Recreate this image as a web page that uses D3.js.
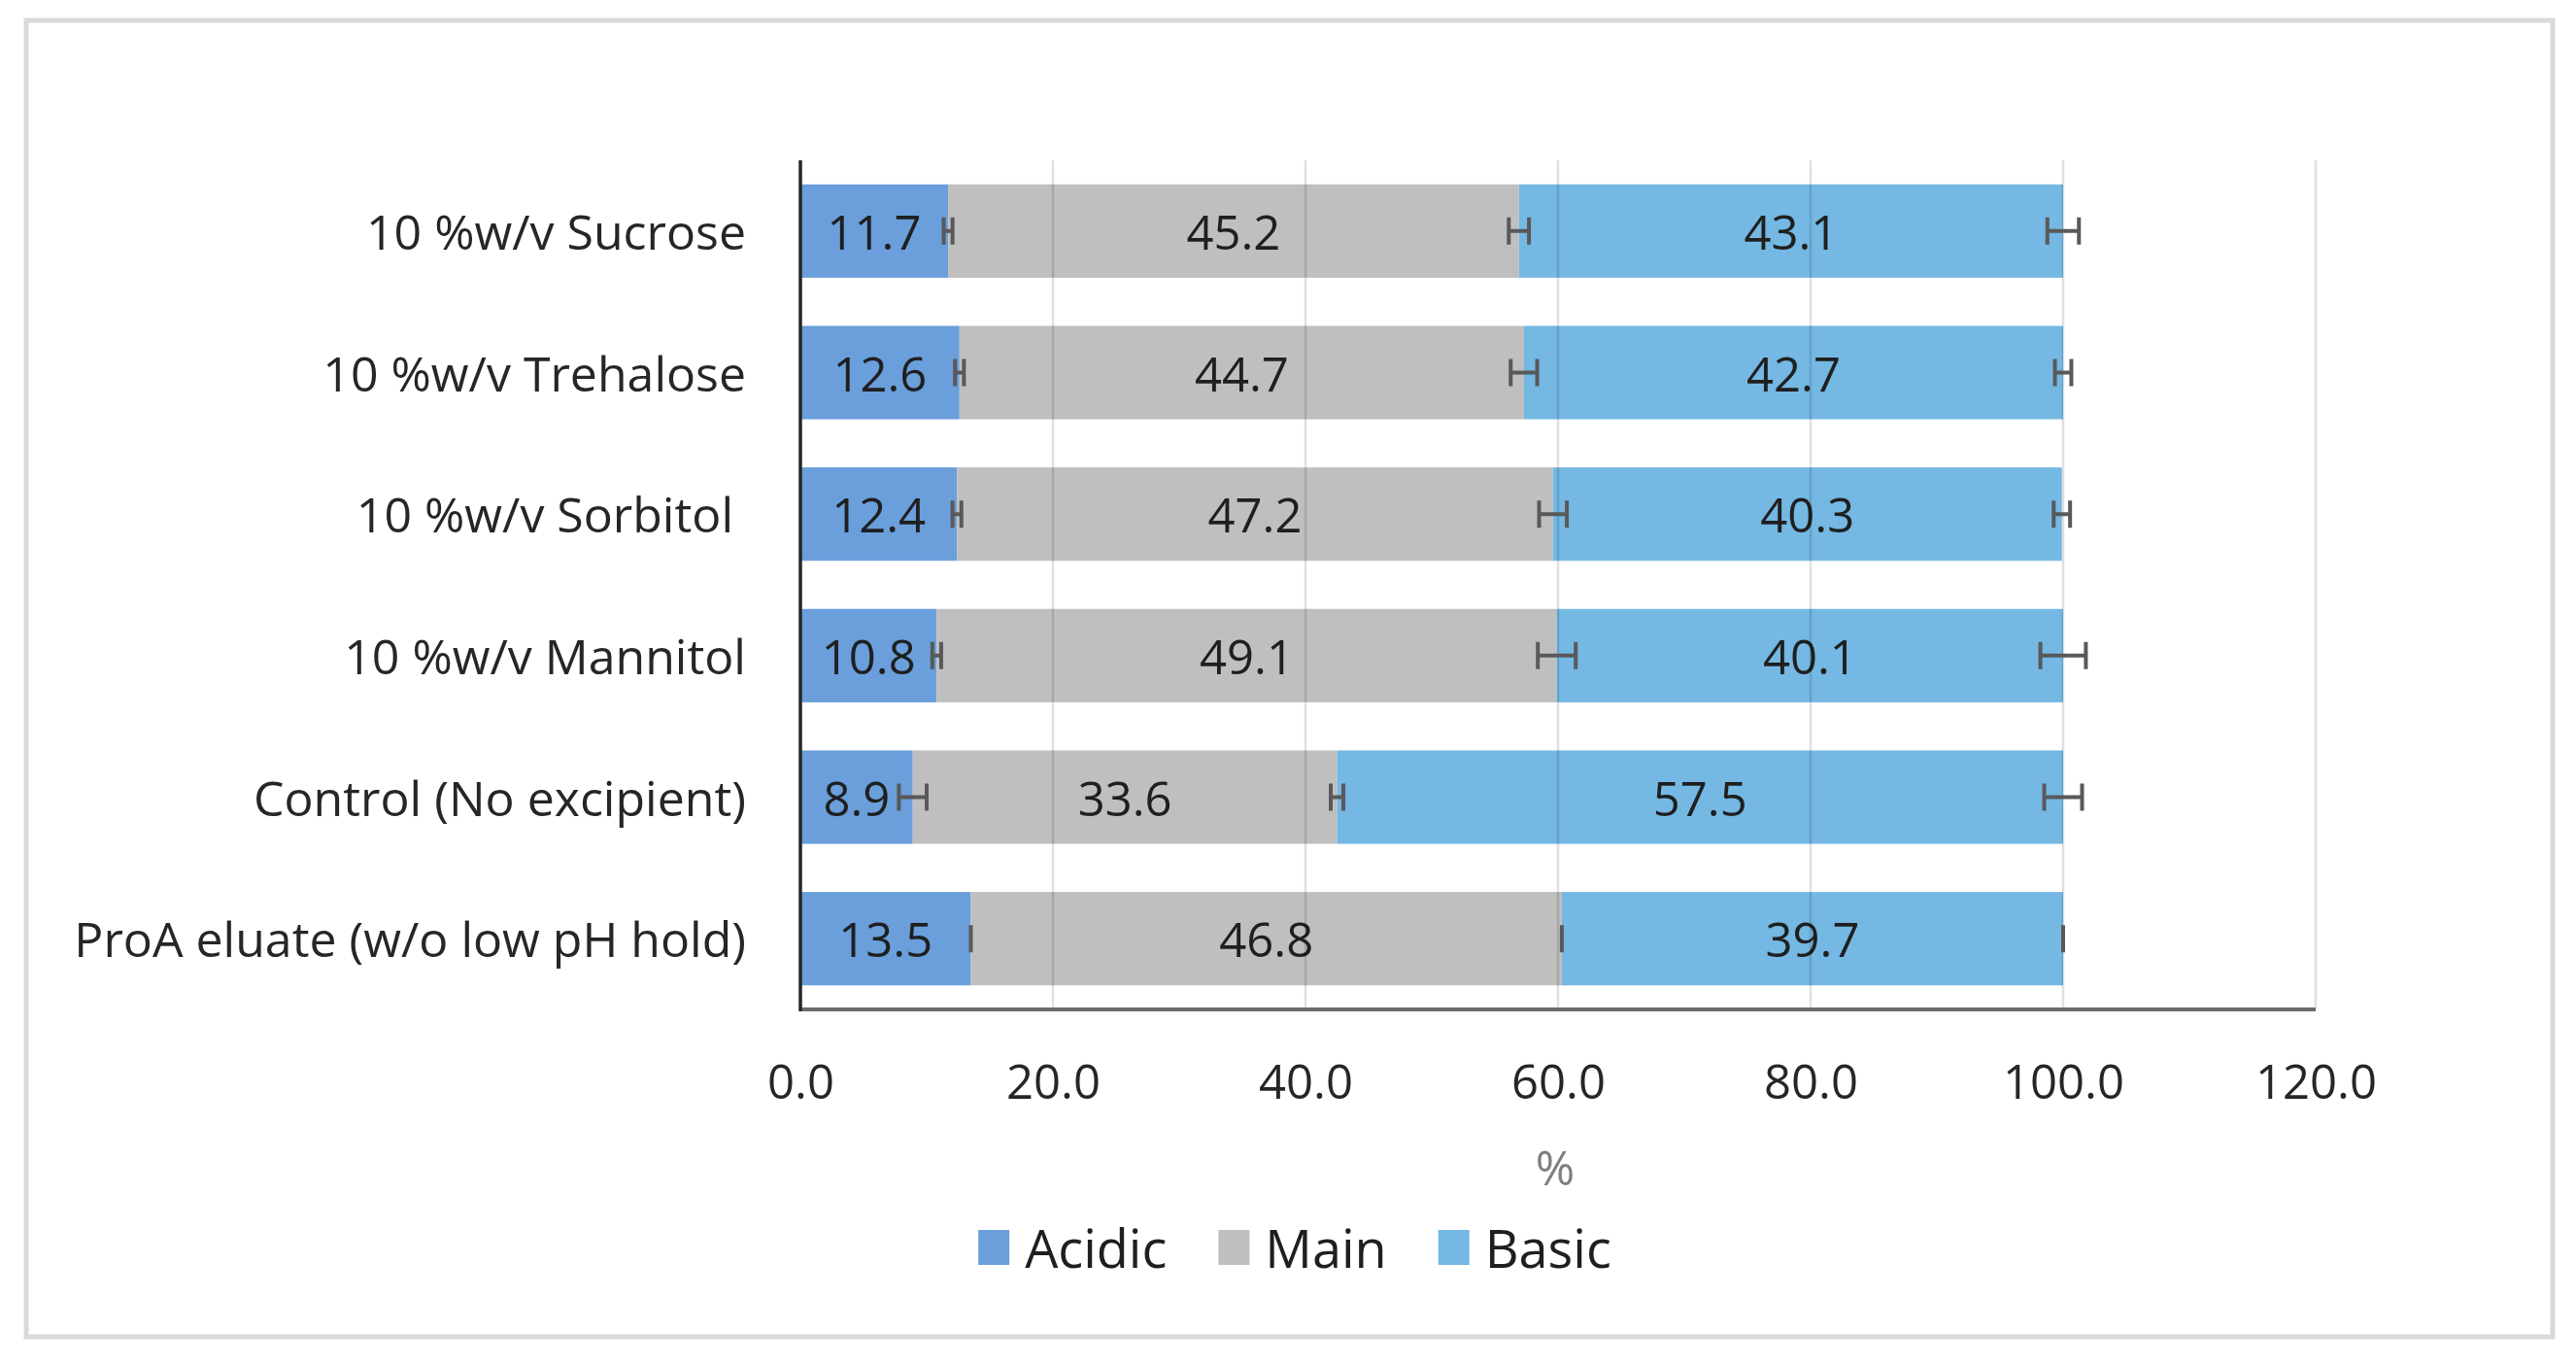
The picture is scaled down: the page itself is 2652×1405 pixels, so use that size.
<!DOCTYPE html>
<html>
<head>
<meta charset="utf-8">
<script src="https://cdn.jsdelivr.net/npm/d3@7"></script>
<style>
  html, body { margin: 0; padding: 0; background: #fff; }
  svg text { font-family: "Open Sans", sans-serif; }
</style>
</head>
<body>
<script>
const width = 2652;
const height = 1405;

// categories, top to bottom
const categories = [
  "10 %w/v Sucrose",
  "10 %w/v Trehalose",
  "10 %w/v Sorbitol ",
  "10 %w/v Mannitol",
  "Control (No excipient)",
  "ProA eluate (w/o low pH hold)"
];
const seriesNames = ["Acidic", "Main", "Basic"];
const seriesColors = ["#6A9FDB", "#BFBFBF", "#74B8E3"];

const acidic = [11.7, 12.6, 12.4, 10.8, 8.9, 13.5];
const main = [45.2, 44.7, 47.2, 49.1, 33.6, 46.8];
const basic = [43.1, 42.7, 40.3, 40.1, 57.5, 39.7];

// +/- error
const acidicErr = [0.35, 0.35, 0.35, 0.35, 1.1, 0];
const mainErr = [0.8, 1.05, 1.1, 1.5, 0.5, 0];
const basicErr = [1.25, 0.65, 0.65, 1.8, 1.5, 0];

const xTicks = [0, 20, 40, 60, 80, 100, 120];
const xTitle = "%";

const rows = categories.map((c, i) => ({
  category: c,
  Acidic: acidic[i], Main: main[i], Basic: basic[i],
  err: { Acidic: acidicErr[i], Main: mainErr[i], Basic: basicErr[i] }
}));

const x = d3.scaleLinear().domain([0, 120]).range([824, 2384]);
const y = d3.scaleBand().domain(categories).range([165, 1039])
  .paddingInner(0.34).paddingOuter(0.17);
const color = d3.scaleOrdinal().domain(seriesNames).range(seriesColors);

const stacked = d3.stack().keys(seriesNames)(rows);

const svg = d3.select("body").append("svg")
  .attr("width", width).attr("height", height)
  .attr("xmlns", "http://www.w3.org/2000/svg");

// chart frame
svg.append("rect")
  .attr("x", 27).attr("y", 21)
  .attr("width", 2601).attr("height", 1355)
  .attr("fill", "#fff")
  .attr("stroke", "#D9D9D9")
  .attr("stroke-width", 5);

// bars
const layer = svg.append("g").selectAll("g")
  .data(stacked)
  .enter().append("g")
  .attr("fill", d => color(d.key));

layer.selectAll("rect")
  .data(d => d)
  .enter().append("rect")
  .attr("x", d => x(d[0]))
  .attr("y", d => y(d.data.category))
  .attr("width", d => x(d[1]) - x(d[0]))
  .attr("height", y.bandwidth());

// gridlines, faint, also visible over the bars
svg.append("g").selectAll("line")
  .data(xTicks.filter(t => t > 0))
  .enter().append("line")
  .attr("x1", d => x(d)).attr("x2", d => x(d))
  .attr("y1", 165).attr("y2", 1039)
  .attr("stroke", "rgba(0,0,0,0.12)")
  .attr("stroke-width", 2.5);

// data labels
layer.selectAll("text")
  .data(d => d.map(v => Object.assign({ key: d.key }, v)))
  .enter().append("text")
  .attr("x", d => (x(d[0]) + x(d[1])) / 2)
  .attr("y", d => y(d.data.category) + y.bandwidth() / 2)
  .attr("text-anchor", "middle")
  .attr("dominant-baseline", "central")
  .attr("font-size", "49px")
  .attr("fill", "#1f1f1f")
  .text(d => d.data[d.key].toFixed(1));

// error bars at the end of each segment
const capHalf = 14;
const errG = svg.append("g")
  .attr("stroke", "#595959")
  .attr("stroke-width", 4)
  .attr("fill", "none");

stacked.forEach(s => {
  s.forEach(d => {
    const e = d.data.err[s.key];
    const cy = y(d.data.category) + y.bandwidth() / 2;
    const xl = x(d[1] - e), xr = x(d[1] + e);
    errG.append("path")
      .attr("d", `M${xl},${cy}H${xr}M${xl},${cy - capHalf}V${cy + capHalf}M${xr},${cy - capHalf}V${cy + capHalf}`);
  });
});

// axes lines
svg.append("line")
  .attr("x1", x(0)).attr("x2", x(120))
  .attr("y1", 1039).attr("y2", 1039)
  .attr("stroke", "#6B6B6B").attr("stroke-width", 4);
svg.append("line")
  .attr("x1", x(0)).attr("x2", x(0))
  .attr("y1", 165).attr("y2", 1041)
  .attr("stroke", "#262626").attr("stroke-width", 3.5);

// x axis labels
const xAxis = svg.append("g")
  .attr("transform", "translate(0,1039)")
  .call(d3.axisBottom(x).tickValues(xTicks).tickFormat(d3.format(".1f"))
    .tickSize(0).tickPadding(57));
xAxis.select(".domain").remove();
xAxis.selectAll("text")
  .attr("font-size", "49px")
  .attr("font-family", "Open Sans, sans-serif")
  .attr("fill", "#262626");

// category labels
svg.append("g").selectAll("text")
  .data(categories)
  .enter().append("text")
  .attr("x", 768)
  .attr("y", d => y(d) + y.bandwidth() / 2)
  .attr("text-anchor", "end")
  .attr("dominant-baseline", "central")
  .attr("font-size", "50px")
  .attr("fill", "#262626")
  .style("white-space", "pre")
  .text(d => d);

// axis title
svg.append("text")
  .attr("x", 1601).attr("y", 1201)
  .attr("text-anchor", "middle")
  .attr("dominant-baseline", "central")
  .attr("font-size", "49px")
  .attr("fill", "#7F7F7F")
  .text(xTitle);

// legend, centred on the chart frame
const legend = svg.append("g");
const items = legend.selectAll("g")
  .data(seriesNames)
  .enter().append("g");
items.append("rect")
  .attr("width", 32).attr("height", 36)
  .attr("y", 1266)
  .attr("fill", d => color(d));
items.append("text")
  .attr("x", 48)
  .attr("y", 1284)
  .attr("dominant-baseline", "central")
  .attr("font-size", "54px")
  .attr("fill", "#1f1f1f")
  .text(d => d);

let cursor = 0;
const offsets = [];
items.each(function () {
  const w = 48 + d3.select(this).select("text").node().getComputedTextLength();
  offsets.push(cursor);
  cursor += w + 53;
});
const total = cursor - 53;
const start = 1333 - total / 2;
items.attr("transform", (d, i) => `translate(${start + offsets[i]},0)`);
</script>
</body>
</html>
